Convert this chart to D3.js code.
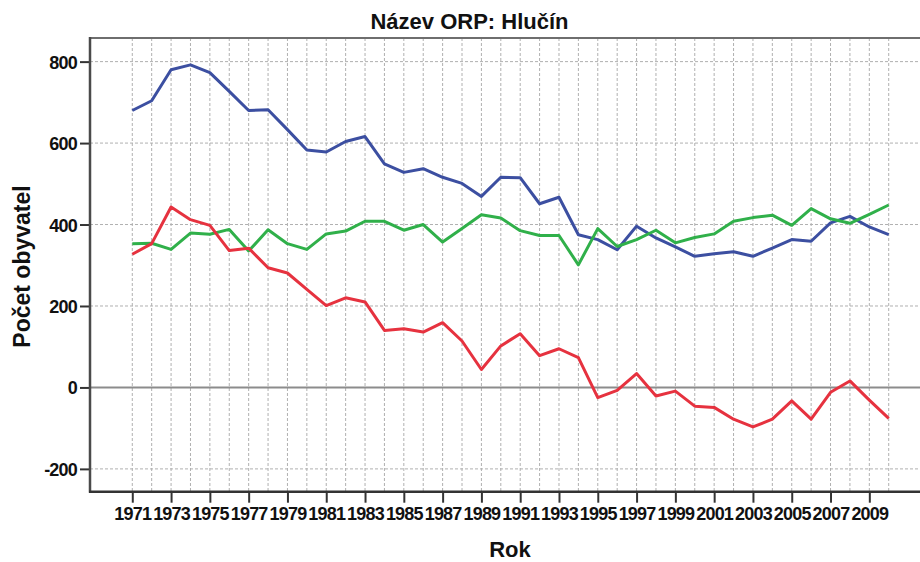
<!DOCTYPE html>
<html>
<head>
<meta charset="utf-8">
<script src="https://cdn.jsdelivr.net/npm/d3@7"></script>
<style>
  html, body { margin: 0; padding: 0; background: #fff; }
  svg { display: block; }
  text { font-family: "Liberation Sans", Arial, sans-serif; font-weight: bold; fill: #111; }
</style>
</head>
<body>
<svg id="chart" width="920" height="562"></svg>
<script>
const years = d3.range(1971, 2011);
// Živě narození (blue)
const births = [680, 704, 780, 792, 773, 727, 680, 682, 633, 583,
                578, 604, 616, 549, 528, 537, 516, 501, 469, 516,
                515, 451, 467, 375, 363, 338, 396, 367, 345, 322,
                328, 333, 322, 342, 363, 359, 404, 420, 394, 375];
// Zemřelí (green)
const deaths = [353, 354, 339, 379, 376, 388, 335, 387, 353, 339,
                377, 384, 408, 408, 386, 400, 357, 390, 424, 416,
                385, 373, 373, 301, 390, 346, 363, 386, 355, 368,
                377, 408, 417, 423, 398, 439, 414, 403, 425, 448];
// Přirozený přírůstek (red)
const increase = [327, 353, 443, 412, 398, 336, 342, 294, 281, 241,
                  201, 220, 210, 140, 144, 136, 159, 114, 44, 102,
                  132, 78, 95, 73, -25, -7, 34, -21, -9, -46,
                  -49, -78, -97, -78, -33, -78, -12, 16, -31, -76];
const yTicks = [-200, 0, 200, 400, 600, 800];
const xTickYears = years.filter(v => v % 2 === 1);

const titleText = "Název ORP: Hlučín";
const xTitle = "Rok";
const yTitle = "Počet obyvatel";

const series = [
  { name: "births", values: births, color: "#3c4fa1" },
  { name: "deaths", values: deaths, color: "#30b04a" },
  { name: "increase", values: increase, color: "#e6323f" }
];

(function () {
const svg = d3.select("#chart");
const pLeft = 90, pRight = 931, pTop = 38, pBottom = 491.7;

const x = d3.scaleLinear().domain([1968.82, 2012.18]).range([pLeft, pRight]);
const y = d3.scaleLinear().domain([-256, 858]).range([pBottom, pTop]);

// grid: vertical per year
const grid = svg.append("g");
grid.selectAll("line.v").data(years).enter().append("line")
  .attr("class", "v")
  .attr("x1", d => x(d)).attr("x2", d => x(d))
  .attr("y1", pTop).attr("y2", pBottom)
  .attr("stroke", "#b0b0b0").attr("stroke-width", 1)
  .attr("stroke-dasharray", "3,2");
// grid: horizontal
grid.selectAll("line.h").data(yTicks.filter(d => d !== 0)).enter().append("line")
  .attr("class", "h")
  .attr("x1", pLeft).attr("x2", pRight)
  .attr("y1", d => y(d)).attr("y2", d => y(d))
  .attr("stroke", "#b0b0b0").attr("stroke-width", 1)
  .attr("stroke-dasharray", "3,2");
// zero line
grid.append("line")
  .attr("x1", pLeft).attr("x2", pRight)
  .attr("y1", y(0)).attr("y2", y(0))
  .attr("stroke", "#8c8c8c").attr("stroke-width", 2);

// top frame
svg.append("line")
  .attr("x1", pLeft).attr("x2", pRight)
  .attr("y1", pTop).attr("y2", pTop)
  .attr("stroke", "#6e6e6e").attr("stroke-width", 2);

// lines
const lineGen = d3.line().x((d, i) => x(years[i])).y(d => y(d));
series.forEach(s => {
  svg.append("path")
    .datum(s.values)
    .attr("d", lineGen)
    .attr("fill", "none")
    .attr("stroke", s.color)
    .attr("stroke-width", 3)
    .attr("stroke-linejoin", "round");
});

// y axis
const yAxis = d3.axisLeft(y).tickValues(yTicks).tickSize(10).tickPadding(3).tickFormat(d => String(d));
const gy = svg.append("g").attr("transform", `translate(${pLeft},0)`).call(yAxis);
gy.select(".domain").remove();
gy.append("line").attr("x1", 0).attr("x2", 0).attr("y1", pTop - 1).attr("y2", pBottom + 1)
  .attr("stroke", "#4a4a4a").attr("stroke-width", 2.5);
gy.selectAll(".tick line").attr("stroke", "#333").attr("stroke-width", 2);
gy.selectAll(".tick text").style("font-size", "18px").style("letter-spacing", "-0.8px")
  .attr("fill", "#111").attr("dy", "0.36em");

// x axis
const xAxis = d3.axisBottom(x).tickValues(xTickYears).tickSize(11).tickPadding(5).tickFormat(d => String(d));
const gx = svg.append("g").attr("transform", `translate(0,${pBottom})`).call(xAxis);
gx.select(".domain").remove();
gx.append("line").attr("x1", pLeft - 1).attr("x2", pRight).attr("y1", 0).attr("y2", 0)
  .attr("stroke", "#333").attr("stroke-width", 2.5);
gx.selectAll(".tick line").attr("stroke", "#333").attr("stroke-width", 2);
gx.selectAll(".tick text").style("font-size", "18px").style("letter-spacing", "-0.8px")
  .attr("fill", "#111");

// titles
svg.append("text").attr("x", 469.5).attr("y", 29.3)
  .attr("text-anchor", "middle").style("font-size", "22px").text(titleText);
svg.append("text").attr("x", 510).attr("y", 556.5)
  .attr("text-anchor", "middle").style("font-size", "22px").text(xTitle);
svg.append("text")
  .attr("transform", "translate(30,266.5) rotate(-90)")
  .attr("text-anchor", "middle").style("font-size", "23px").text(yTitle);
})();
</script>
</body>
</html>
